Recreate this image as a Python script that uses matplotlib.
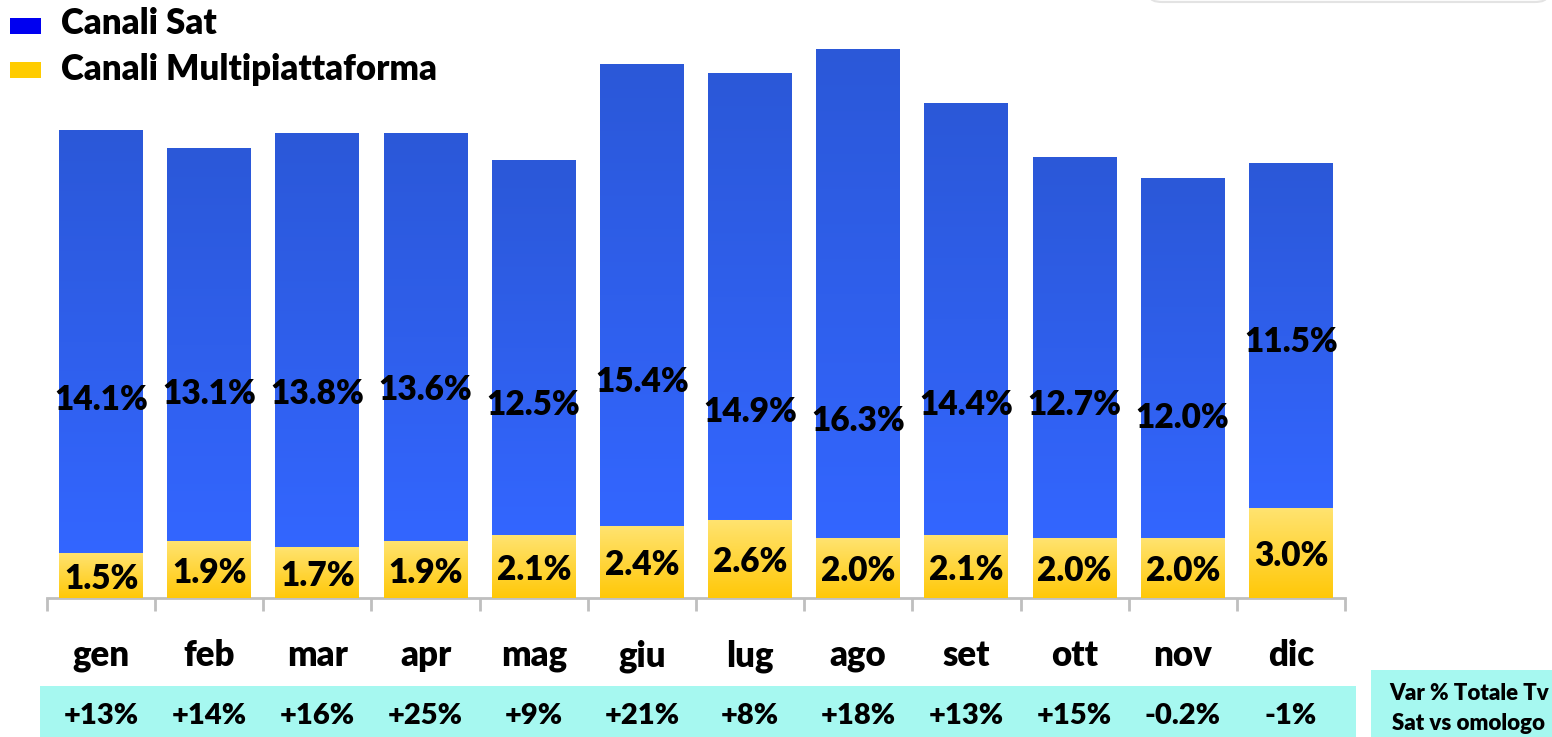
import numpy as np
import matplotlib.pyplot as plt
from matplotlib.patches import Rectangle, FancyBboxPatch
from matplotlib.colors import LinearSegmentedColormap
import matplotlib.transforms as mtransforms

plt.rcParams['font.family'] = ['Lato', 'DejaVu Sans']
plt.rcParams['font.weight'] = 'heavy'

# dati
mesi = ['gen', 'feb', 'mar', 'apr', 'mag', 'giu', 'lug', 'ago', 'set', 'ott', 'nov', 'dic']
sat = [14.1, 13.1, 13.8, 13.6, 12.5, 15.4, 14.9, 16.3, 14.4, 12.7, 12.0, 11.5]
multi = [1.5, 1.9, 1.7, 1.9, 2.1, 2.4, 2.6, 2.0, 2.1, 2.0, 2.0, 3.0]
var_tot = ['+13%', '+14%', '+16%', '+25%', '+9%', '+21%', '+8%', '+18%', '+13%', '+15%', '-0.2%', '-1%']
# altezza delle etichette dei canali Sat (spostate a mano come nell'originale)
sat_label_y = [6.6, 6.8, 6.8, 6.95, 6.45, 7.2, 6.2, 5.9, 6.45, 6.45, 6.0, 8.55]

W, H = 1552, 737
fig = plt.figure(figsize=(W / 100, H / 100), dpi=100)

# area del grafico: base a y=598px, da x=47 a x=1345
ax = fig.add_axes([47 / W, (H - 598) / H, 1298 / W, 598 / H])
x = np.arange(len(mesi))
ymax = 598 / 29.95

bars_multi = ax.bar(x, multi, width=0.776, color='#FFD633', zorder=2)
bars_sat = ax.bar(x, sat, width=0.776, bottom=multi, color='#3060F0', zorder=2)

cmap_blue = LinearSegmentedColormap.from_list('b', ['#3366FF', '#2B58D8'])
cmap_yel = LinearSegmentedColormap.from_list('y', ['#FFC808', '#FFE370'])
grad = np.linspace(0, 1, 256).reshape(-1, 1)

for bars, cmap in [(bars_multi, cmap_yel), (bars_sat, cmap_blue)]:
    for b in bars:
        x0, y0 = b.get_x(), b.get_y()
        ax.imshow(grad, extent=[x0, x0 + b.get_width(), y0, y0 + b.get_height()],
                  origin='lower', aspect='auto', cmap=cmap, zorder=3)

ax.set_xlim(-0.5, 11.5)
ax.set_ylim(0, ymax)

# etichette
for i in range(len(mesi)):
    ax.text(x[i], multi[i] / 2 - 0.1, f'{multi[i]:.1f}%', ha='center', va='center',
            fontsize=24, zorder=5)
    ax.text(x[i], sat_label_y[i], f'{sat[i]:.1f}%', ha='center', va='center',
            fontsize=24, zorder=5)

# assi
for s in ['top', 'right', 'left']:
    ax.spines[s].set_visible(False)
ax.spines['bottom'].set_color('#BFBFBF')
ax.spines['bottom'].set_linewidth(2)
ax.set_yticks([])
ax.set_xticks([])
ax.set_xticks(np.arange(-0.5, 12, 1), minor=True)
ax.tick_params(axis='x', which='minor', length=9.5, width=2, color='#BFBFBF', labelbottom=False)

trans = mtransforms.blended_transform_factory(ax.transData, fig.transFigure)
for i, m in enumerate(mesi):
    fig.text(x[i], 1 - 656 / H, m, transform=trans, ha='center', va='center', fontsize=25)

# fascia variazioni
fig.patches.append(Rectangle((40 / W, 0), 1316 / W, 51 / H, transform=fig.transFigure,
                             facecolor='#A6F8F0', edgecolor='none', zorder=-1))
for i, v in enumerate(var_tot):
    fig.text(x[i], 1 - 716 / H, v, transform=trans, ha='center', va='center', fontsize=21)

fig.patches.append(Rectangle((1371 / W, 0), 181 / W, 67 / H, transform=fig.transFigure,
                             facecolor='#A6F8F0', edgecolor='none', zorder=-1))
fig.text(1469 / W, 1 - 694 / H, 'Var % Totale Tv', ha='center', va='center', fontsize=16)
fig.text(1469 / W, 1 - 723 / H, 'Sat vs omologo', ha='center', va='center', fontsize=16)

# legenda
fig.patches.append(Rectangle((10 / W, 1 - 34 / H), 31 / W, 16 / H, transform=fig.transFigure,
                             facecolor='#0000F0', edgecolor='none'))
fig.patches.append(Rectangle((10 / W, 1 - 78 / H), 31 / W, 16 / H, transform=fig.transFigure,
                             facecolor='#FFCC00', edgecolor='none'))
fig.text(61 / W, 1 - 24 / H, 'Canali Sat', ha='left', va='center', fontsize=25)
fig.text(61 / W, 1 - 69 / H, 'Canali Multipiattaforma', ha='left', va='center', fontsize=25)

# riquadro grigio in alto a destra
fig.patches.append(FancyBboxPatch((1150 / W, 1 - 2 / H), 397 / W, 30 / H,
                                  boxstyle='round,pad=0,rounding_size=0.008',
                                  transform=fig.transFigure, facecolor='#FDFDFD',
                                  edgecolor='#E3E3E3', linewidth=1.5))

fig.savefig('out.png', dpi=100)
